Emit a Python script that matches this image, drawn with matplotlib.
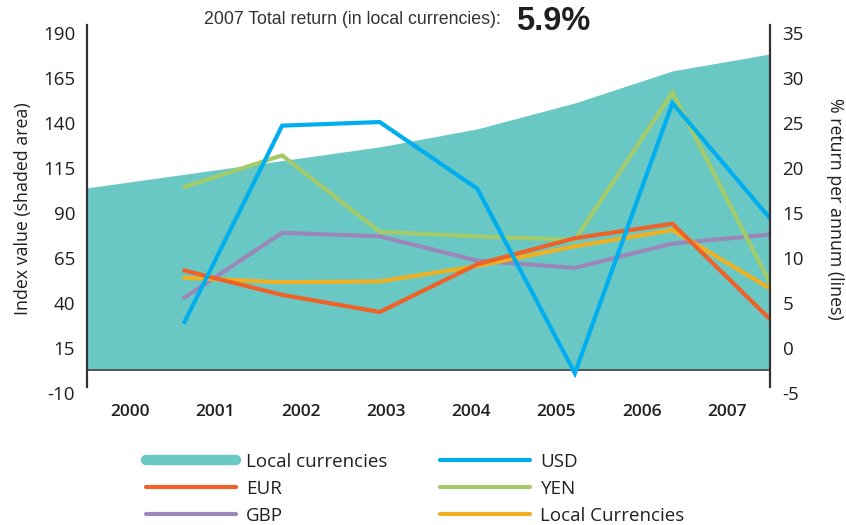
import matplotlib
matplotlib.use("Agg")
import matplotlib.pyplot as plt
from matplotlib.lines import Line2D
import numpy as np

plt.rcParams['font.family'] = ['Open Sans', 'DejaVu Sans']

# ---- data ----
years = ["2000", "2001", "2002", "2003", "2004", "2005", "2006", "2007"]
index_values = [103.9, 111.5, 119.1, 126.7, 136.7, 151.1, 168.9, 178.3]
usd = [2.9, 24.7, 25.1, 17.7, -2.8, 27.2, 14.4]
yen = [17.9, 21.4, 12.9, 12.4, 12.0, 28.4, 7.2]
eur = [8.6, 5.9, 4.0, 9.3, 12.2, 13.8, 3.2]
local = [7.8, 7.3, 7.4, 9.1, 11.3, 13.1, 6.6]
gbp = [5.6, 12.8, 12.4, 9.7, 8.9, 11.6, 12.6]
left_ticks = [-10, 15, 40, 65, 90, 115, 140, 165, 190]
right_ticks = [-5, 0, 5, 10, 15, 20, 25, 30, 35]
total_return = "5.9%"

# ---- styles ----
TEAL = "#69C8C4"
C_USD = "#00AEEF"
C_YEN = "#A3CB6A"
C_EUR = "#EE6127"
C_GBP = "#9B87BA"
C_LOC = "#EEB023"
AXC = "#333333"

W, H = 846, 525
fig = plt.figure(figsize=(W / 100, H / 100), dpi=100)
x0, x1, ytop, ybot = 87, 770, 25, 393
ax = fig.add_axes([x0 / W, 1 - ybot / H, (x1 - x0) / W, (ybot - ytop) / H])

base = 2.8
ytop_val = 194.4
xi = np.arange(len(index_values))
ax.fill_between(xi, base, index_values, color=TEAL, linewidth=0, zorder=1)
ax.set_xlim(0, len(index_values) - 1)
ax.set_ylim(-10, ytop_val)
ax.axhline(base, color="#555555", lw=1.4, zorder=2)

ax.set_yticks(left_ticks)
ax.set_yticklabels([str(t) for t in left_ticks])
ax.tick_params(axis='y', length=0, pad=8.5, labelsize=13.5, labelcolor="#231F20")
ax.set_xticks(np.linspace(0.44, 6.56, len(years)))
ax.set_xticklabels(years, fontweight='semibold')
ax.tick_params(axis='x', length=0, pad=8, labelsize=12.5, labelcolor="#231F20")

for s in ['top', 'bottom', 'right']:
    ax.spines[s].set_visible(False)
ax.spines['left'].set_color(AXC)
ax.spines['left'].set_linewidth(1.6)
ax.spines['left'].set_bounds(-6.7, ytop_val)
ax.set_ylabel("Index value (shaded area)", fontsize=12.8, color="#231F20", labelpad=8)

ax2 = ax.twinx()
ax2.set_ylim((-10 - 15) / 5, (ytop_val - 15) / 5)
xl = np.arange(1, len(usd) + 1)
lw = 3.0
ax2.plot(xl, gbp, color=C_GBP, lw=lw, solid_joinstyle='miter')
ax2.plot(xl, local, color=C_LOC, lw=lw, solid_joinstyle='miter')
ax2.plot(xl, yen, color=C_YEN, lw=lw, solid_joinstyle='miter')
ax2.plot(xl, eur, color=C_EUR, lw=lw, solid_joinstyle='miter')
ax2.plot(xl, usd, color=C_USD, lw=lw, solid_joinstyle='miter')
ax2.set_yticks(right_ticks)
ax2.set_yticklabels([str(t) for t in right_ticks])
ax2.tick_params(axis='y', length=0, pad=9, labelsize=13.5, labelcolor="#231F20")
for s in ['top', 'bottom', 'left']:
    ax2.spines[s].set_visible(False)
ax2.spines['right'].set_color(AXC)
ax2.spines['right'].set_linewidth(1.6)
ax2.spines['right'].set_bounds((-6.7 - 15) / 5, (ytop_val - 15) / 5)
ax2.set_ylabel("% return per annum (lines)", fontsize=12.8, color="#231F20",
               rotation=270, labelpad=29)
ax2.set_xlim(0, len(index_values) - 1)

# title
fig.text(501 / W, 1 - 20 / H, "2007 Total return (in local currencies):",
         ha='right', va='center', fontsize=12.8, color="#333333",
         family=['Liberation Sans', 'DejaVu Sans'])
fig.text(516 / W, 1 - 22 / H, total_return, ha='left', va='center',
         fontsize=23.5, fontweight='bold', color="#231F20",
         family=['Liberation Sans', 'DejaVu Sans'])

# legend
handles = [
    Line2D([], [], color=TEAL, lw=7.5, solid_capstyle='round'),
    Line2D([], [], color=C_EUR, lw=3, solid_capstyle='round'),
    Line2D([], [], color=C_GBP, lw=3, solid_capstyle='round'),
    Line2D([], [], color=C_USD, lw=3, solid_capstyle='round'),
    Line2D([], [], color=C_YEN, lw=3, solid_capstyle='round'),
    Line2D([], [], color=C_LOC, lw=3, solid_capstyle='round'),
]
labels = ["Local currencies", "EUR", "GBP", "USD", "YEN", "Local Currencies"]
fig.legend(handles, labels, ncol=2, frameon=False, loc='upper left',
           bbox_to_anchor=(146 / W, 1 - 453 / H), borderpad=0, borderaxespad=0,
           handlelength=4.8, handletextpad=0.55, columnspacing=2.8,
           labelspacing=0.48, prop={'size': 13.5}, labelcolor="#231F20")

fig.savefig("out.png", dpi=100)
